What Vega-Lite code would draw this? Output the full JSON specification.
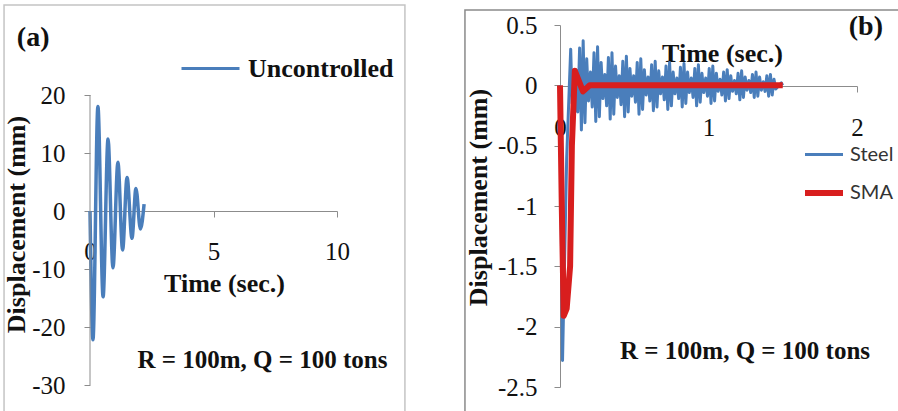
{
  "$schema": "https://vega.github.io/schema/vega-lite/v6.json",
  "background": "white",
  "padding": {"left": 3, "top": 4, "right": 0, "bottom": 0},
  "spacing": 223,
  "bounds": "flush",
  "config": {
    "view": {"stroke": null},
    "axis": {
      "grid": false,
      "domainColor": "#8c8c8c",
      "tickColor": "#8c8c8c",
      "tickSize": 6,
      "labelFont": "Liberation Serif",
      "labelFontSize": 25,
      "labelColor": "#111111",
      "labelFlush": false,
      "titleFont": "Liberation Serif",
      "titleFontSize": 26,
      "titleFontWeight": "bold",
      "titleColor": "#111111"
    },
    "text": {"font": "Liberation Serif", "fontWeight": "bold", "color": "#111111"}
  },
  "datasets": {
    "uncontrolled": [
      {"t": 0, "d": 0, "series": "Uncontrolled"},
      {"t": 0.12, "d": -22.2, "series": "Uncontrolled"},
      {"t": 0.32, "d": 18.0, "series": "Uncontrolled"},
      {"t": 0.53, "d": -14.8, "series": "Uncontrolled"},
      {"t": 0.73, "d": 12.4, "series": "Uncontrolled"},
      {"t": 0.93, "d": -9.8, "series": "Uncontrolled"},
      {"t": 1.13, "d": 8.4, "series": "Uncontrolled"},
      {"t": 1.32, "d": -6.7, "series": "Uncontrolled"},
      {"t": 1.50, "d": 5.8, "series": "Uncontrolled"},
      {"t": 1.70, "d": -4.7, "series": "Uncontrolled"},
      {"t": 1.86, "d": 3.9, "series": "Uncontrolled"},
      {"t": 2.04, "d": -3.1, "series": "Uncontrolled"},
      {"t": 2.19, "d": 1.2, "series": "Uncontrolled"}
    ],
    "b": [
      {"t": 0, "d": 0, "series": "Steel"},
      {"t": 0.017, "d": -2.28, "series": "Steel"},
      {"t": 0.045, "d": -0.6, "series": "Steel"},
      {"t": 0.072, "d": 0.30, "series": "Steel"},
      {"t": 0.082, "d": -0.15, "series": "Steel"},
      {"t": 0.092, "d": 0.12, "series": "Steel"},
      {"t": 0.100, "d": -0.22, "series": "Steel"},
      {"t": 0.108, "d": 0.13, "series": "Steel"},
      {"t": 0.120, "d": -0.22, "series": "Steel"},
      {"t": 0.132, "d": 0.31, "series": "Steel"},
      {"t": 0.144, "d": -0.37, "series": "Steel"},
      {"t": 0.156, "d": 0.37, "series": "Steel"},
      {"t": 0.168, "d": -0.31, "series": "Steel"},
      {"t": 0.180, "d": 0.22, "series": "Steel"},
      {"t": 0.192, "d": -0.13, "series": "Steel"},
      {"t": 0.205, "d": 0.11, "series": "Steel"},
      {"t": 0.217, "d": -0.18, "series": "Steel"},
      {"t": 0.229, "d": 0.27, "series": "Steel"},
      {"t": 0.241, "d": -0.30, "series": "Steel"},
      {"t": 0.253, "d": 0.32, "series": "Steel"},
      {"t": 0.265, "d": -0.26, "series": "Steel"},
      {"t": 0.277, "d": 0.19, "series": "Steel"},
      {"t": 0.289, "d": -0.11, "series": "Steel"},
      {"t": 0.302, "d": 0.09, "series": "Steel"},
      {"t": 0.314, "d": -0.17, "series": "Steel"},
      {"t": 0.326, "d": 0.23, "series": "Steel"},
      {"t": 0.338, "d": -0.28, "series": "Steel"},
      {"t": 0.350, "d": 0.27, "series": "Steel"},
      {"t": 0.362, "d": -0.24, "series": "Steel"},
      {"t": 0.374, "d": 0.16, "series": "Steel"},
      {"t": 0.386, "d": -0.10, "series": "Steel"},
      {"t": 0.399, "d": 0.08, "series": "Steel"},
      {"t": 0.411, "d": -0.16, "series": "Steel"},
      {"t": 0.423, "d": 0.20, "series": "Steel"},
      {"t": 0.435, "d": -0.26, "series": "Steel"},
      {"t": 0.447, "d": 0.24, "series": "Steel"},
      {"t": 0.459, "d": -0.22, "series": "Steel"},
      {"t": 0.471, "d": 0.14, "series": "Steel"},
      {"t": 0.483, "d": -0.09, "series": "Steel"},
      {"t": 0.496, "d": 0.08, "series": "Steel"},
      {"t": 0.508, "d": -0.14, "series": "Steel"},
      {"t": 0.520, "d": 0.19, "series": "Steel"},
      {"t": 0.532, "d": -0.24, "series": "Steel"},
      {"t": 0.544, "d": 0.22, "series": "Steel"},
      {"t": 0.556, "d": -0.20, "series": "Steel"},
      {"t": 0.568, "d": 0.13, "series": "Steel"},
      {"t": 0.580, "d": -0.08, "series": "Steel"},
      {"t": 0.593, "d": 0.07, "series": "Steel"},
      {"t": 0.605, "d": -0.13, "series": "Steel"},
      {"t": 0.617, "d": 0.17, "series": "Steel"},
      {"t": 0.629, "d": -0.21, "series": "Steel"},
      {"t": 0.641, "d": 0.20, "series": "Steel"},
      {"t": 0.653, "d": -0.18, "series": "Steel"},
      {"t": 0.665, "d": 0.12, "series": "Steel"},
      {"t": 0.677, "d": -0.07, "series": "Steel"},
      {"t": 0.690, "d": 0.07, "series": "Steel"},
      {"t": 0.702, "d": -0.12, "series": "Steel"},
      {"t": 0.714, "d": 0.16, "series": "Steel"},
      {"t": 0.726, "d": -0.20, "series": "Steel"},
      {"t": 0.738, "d": 0.19, "series": "Steel"},
      {"t": 0.750, "d": -0.17, "series": "Steel"},
      {"t": 0.762, "d": 0.11, "series": "Steel"},
      {"t": 0.774, "d": -0.07, "series": "Steel"},
      {"t": 0.787, "d": 0.06, "series": "Steel"},
      {"t": 0.799, "d": -0.11, "series": "Steel"},
      {"t": 0.811, "d": 0.15, "series": "Steel"},
      {"t": 0.823, "d": -0.18, "series": "Steel"},
      {"t": 0.835, "d": 0.18, "series": "Steel"},
      {"t": 0.847, "d": -0.15, "series": "Steel"},
      {"t": 0.859, "d": 0.11, "series": "Steel"},
      {"t": 0.871, "d": -0.06, "series": "Steel"},
      {"t": 0.884, "d": 0.06, "series": "Steel"},
      {"t": 0.896, "d": -0.10, "series": "Steel"},
      {"t": 0.908, "d": 0.14, "series": "Steel"},
      {"t": 0.920, "d": -0.17, "series": "Steel"},
      {"t": 0.932, "d": 0.17, "series": "Steel"},
      {"t": 0.944, "d": -0.14, "series": "Steel"},
      {"t": 0.956, "d": 0.10, "series": "Steel"},
      {"t": 0.968, "d": -0.06, "series": "Steel"},
      {"t": 0.981, "d": 0.06, "series": "Steel"},
      {"t": 0.993, "d": -0.09, "series": "Steel"},
      {"t": 1.005, "d": 0.14, "series": "Steel"},
      {"t": 1.017, "d": -0.15, "series": "Steel"},
      {"t": 1.029, "d": 0.16, "series": "Steel"},
      {"t": 1.041, "d": -0.13, "series": "Steel"},
      {"t": 1.053, "d": 0.10, "series": "Steel"},
      {"t": 1.065, "d": -0.05, "series": "Steel"},
      {"t": 1.078, "d": 0.05, "series": "Steel"},
      {"t": 1.090, "d": -0.08, "series": "Steel"},
      {"t": 1.102, "d": 0.11, "series": "Steel"},
      {"t": 1.114, "d": -0.13, "series": "Steel"},
      {"t": 1.126, "d": 0.13, "series": "Steel"},
      {"t": 1.138, "d": -0.11, "series": "Steel"},
      {"t": 1.150, "d": 0.08, "series": "Steel"},
      {"t": 1.162, "d": -0.05, "series": "Steel"},
      {"t": 1.175, "d": 0.04, "series": "Steel"},
      {"t": 1.187, "d": -0.07, "series": "Steel"},
      {"t": 1.199, "d": 0.10, "series": "Steel"},
      {"t": 1.211, "d": -0.12, "series": "Steel"},
      {"t": 1.223, "d": 0.12, "series": "Steel"},
      {"t": 1.235, "d": -0.10, "series": "Steel"},
      {"t": 1.247, "d": 0.07, "series": "Steel"},
      {"t": 1.259, "d": -0.04, "series": "Steel"},
      {"t": 1.272, "d": 0.04, "series": "Steel"},
      {"t": 1.284, "d": -0.06, "series": "Steel"},
      {"t": 1.296, "d": 0.09, "series": "Steel"},
      {"t": 1.308, "d": -0.10, "series": "Steel"},
      {"t": 1.320, "d": 0.11, "series": "Steel"},
      {"t": 1.332, "d": -0.09, "series": "Steel"},
      {"t": 1.344, "d": 0.07, "series": "Steel"},
      {"t": 1.356, "d": -0.04, "series": "Steel"},
      {"t": 1.369, "d": 0.03, "series": "Steel"},
      {"t": 1.381, "d": -0.05, "series": "Steel"},
      {"t": 1.393, "d": 0.08, "series": "Steel"},
      {"t": 1.405, "d": -0.09, "series": "Steel"},
      {"t": 1.417, "d": 0.09, "series": "Steel"},
      {"t": 1.429, "d": -0.08, "series": "Steel"},
      {"t": 1.441, "d": 0.05, "series": "Steel"},
      {"t": 1.453, "d": -0.03, "series": "Steel"},
      {"t": 1.490, "d": 0.02, "series": "Steel"},
      {"t": 1.500, "d": 0, "series": "Steel"},
      {"t": 0, "d": 0, "series": "SMA"},
      {"t": 0.012, "d": -1.0, "series": "SMA"},
      {"t": 0.025, "d": -1.91, "series": "SMA"},
      {"t": 0.045, "d": -1.85, "series": "SMA"},
      {"t": 0.068, "d": -1.5, "series": "SMA"},
      {"t": 0.080, "d": -0.5, "series": "SMA"},
      {"t": 0.100, "d": 0.12, "series": "SMA"},
      {"t": 0.155, "d": -0.05, "series": "SMA"},
      {"t": 0.200, "d": 0, "series": "SMA"},
      {"t": 1.500, "d": 0, "series": "SMA"}
    ]
  },
  "resolve": {"scale": {"color": "independent", "strokeWidth": "independent"}},
  "hconcat": [
    {
      "width": 247,
      "height": 362,
      "layer": [
        {
          "data": {"values": [{}]},
          "mark": {"type": "rect", "fill": null, "stroke": "#c4c4c4", "strokeWidth": 1.5, "clip": false},
          "encoding": {"x": {"datum": -3.48}, "x2": {"datum": 12.75}, "y": {"datum": 35.5}, "y2": {"datum": -36}}
        },
        {
          "data": {"name": "uncontrolled"},
          "mark": {"type": "line", "interpolate": "monotone", "strokeWidth": 3.5, "clip": false},
          "encoding": {
            "x": {
              "field": "t", "type": "quantitative",
              "scale": {"domain": [0, 10], "nice": false, "zero": false},
              "axis": {"values": [0, 5, 10], "offset": -176, "labelPadding": 22, "labelExpr": "datum.value + ''",
                       "labelFont": "Liberation Serif", "labelFontSize": 25, "labelFlush": false,
                       "title": "Time (sec.)", "titleX": 134, "titleY": 72, "titleBaseline": "middle"}
            },
            "y": {
              "field": "d", "type": "quantitative",
              "scale": {"domain": [-30.34, 32.07], "nice": false, "zero": false},
              "axis": {"values": [-30, -20, -10, 0, 10, 20], "domain": false, "labelPadding": 19,
                       "labelExpr": "datum.value + ''", "labelFont": "Liberation Serif", "labelFontSize": 25,
                       "title": "Displacement (mm)", "titleX": -74, "titleY": 199, "titleBaseline": "middle"}
            },
            "color": {
              "field": "series", "type": "nominal",
              "scale": {"domain": ["Uncontrolled"], "range": ["#4a7ebb"]},
              "legend": {"orient": "none", "legendX": 90, "legendY": 13, "title": null, "padding": 0,
                         "symbolType": "stroke", "symbolSize": 3364, "symbolStrokeWidth": 3,
                         "labelFont": "Liberation Serif", "labelFontWeight": "bold", "labelFontSize": 26,
                         "labelColor": "#111111", "labelOffset": 7}
            }
          }
        },
        {
          "data": {"values": [{}]},
          "mark": {"type": "rule", "color": "#8c8c8c", "strokeWidth": 1},
          "encoding": {"x": {"datum": 0}, "y": {"datum": -30}, "y2": {"datum": 20}}
        },
        {
          "data": {"values": [{}]},
          "mark": {"type": "text", "fontSize": 28, "align": "center", "baseline": "middle"},
          "encoding": {"x": {"datum": -2.3}, "y": {"datum": 29.8}, "text": {"value": "(a)"}}
        },
        {
          "data": {"values": [{}]},
          "mark": {"type": "text", "fontSize": 25, "align": "center", "baseline": "middle"},
          "encoding": {"x": {"datum": 6.98}, "y": {"datum": -25.7}, "text": {"value": "R = 100m, Q = 100 tons"}}
        }
      ]
    },
    {
      "width": 297,
      "height": 362,
      "layer": [
        {
          "data": {"values": [{}]},
          "mark": {"type": "rect", "fill": null, "stroke": "#8a8a8a", "strokeWidth": 1.5, "clip": false},
          "encoding": {"x": {"datum": -0.64}, "x2": {"datum": 2.4}, "y": {"datum": 0.624}, "y2": {"datum": -2.75}}
        },
        {
          "data": {"name": "b"},
          "mark": {"type": "line", "strokeJoin": "round", "clip": false},
          "encoding": {
            "x": {
              "field": "t", "type": "quantitative",
              "scale": {"domain": [0, 2], "nice": false, "zero": false},
              "axis": {"values": [0, 1, 2], "offset": -301, "labelPadding": 23, "labelExpr": "datum.value + ''",
                       "labelFont": "Liberation Serif", "labelFontSize": 25, "labelFlush": false,
                       "title": "Time (sec.)", "titleX": 162, "titleY": -33, "titleBaseline": "middle"}
            },
            "y": {
              "field": "d", "type": "quantitative",
              "scale": {"domain": [-2.5, 0.5], "nice": false, "zero": false},
              "axis": {"values": [-2.5, -2, -1.5, -1, -0.5, 0, 0.5], "labelPadding": 17,
                       "labelExpr": "datum.value + ''", "labelFont": "Liberation Serif", "labelFontSize": 25,
                       "title": "Displacement (mm)", "titleX": -82, "titleY": 172, "titleBaseline": "middle"}
            },
            "color": {
              "field": "series", "type": "nominal",
              "scale": {"domain": ["Steel", "SMA"], "range": ["#4a7ebb", "#d81e1e"]},
              "legend": {"orient": "none", "legendX": 242, "legendY": 109, "title": null, "padding": 0,
                         "symbolType": "stroke", "symbolSize": 1444,
                         "labelFont": "Lato", "labelFontSize": 20, "labelColor": "#333333",
                         "labelOffset": 4, "rowPadding": 6}
            },
            "strokeWidth": {
              "field": "series", "type": "nominal",
              "scale": {"domain": ["Steel", "SMA"], "range": [3, 6]},
              "legend": null
            }
          }
        },
        {
          "data": {"values": [{}]},
          "mark": {"type": "text", "fontSize": 28, "align": "center", "baseline": "middle"},
          "encoding": {"x": {"datum": 2.06}, "y": {"datum": 0.483}, "text": {"value": "(b)"}}
        },
        {
          "data": {"values": [{}]},
          "mark": {"type": "text", "fontSize": 25, "align": "center", "baseline": "middle"},
          "encoding": {"x": {"datum": 1.246}, "y": {"datum": -2.2}, "text": {"value": "R = 100m, Q = 100 tons"}}
        }
      ]
    }
  ]
}
